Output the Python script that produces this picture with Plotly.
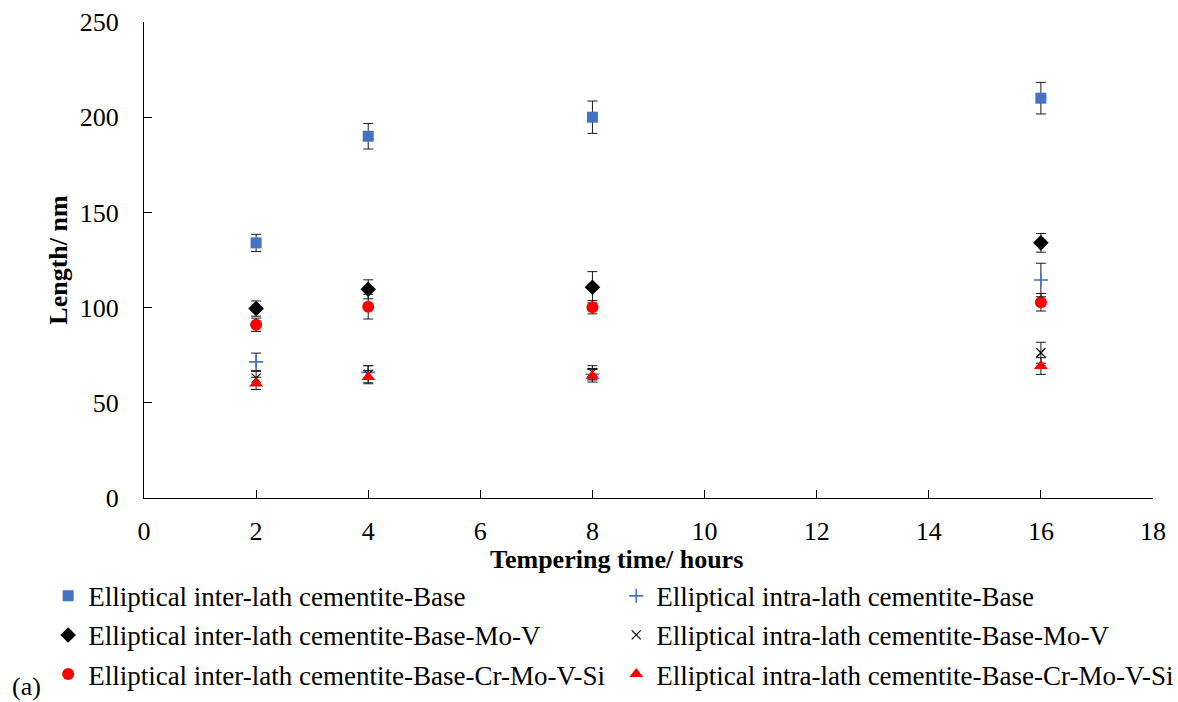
import plotly.graph_objects as go

hours = [2, 4, 8, 16]

inter_base = [134, 190, 200, 210]
inter_base_err = [4.5, 6.7, 8.5, 8.3]
intra_base = [71.5, 66, 65, 114.5]
intra_base_err = [4.6, 3.5, 3.0, 8.8]
inter_mov = [99.5, 109.6, 110.7, 134]
inter_mov_err = [4.0, 5.0, 8.2, 4.9]
intra_mov = [63, 65, 66, 76.3]
intra_mov_err = [3.5, 4.5, 3.5, 5.5]
inter_cr = [91, 100.5, 100.2, 102.8]
inter_cr_err = [3.5, 6.5, 3.5, 4.6]
intra_cr = [60.2, 63.5, 64.2, 69.3]
intra_cr_err = [3.2, 3.5, 3.3, 4.4]

names = [
    "Elliptical inter-lath cementite-Base",
    "Elliptical intra-lath cementite-Base",
    "Elliptical inter-lath cementite-Base-Mo-V",
    "Elliptical intra-lath cementite-Base-Mo-V",
    "Elliptical inter-lath cementite-Base-Cr-Mo-V-Si",
    "Elliptical intra-lath cementite-Base-Cr-Mo-V-Si",
]

FONT = "Liberation Serif, Times New Roman, serif"
BLUE = "#4472C4"
RED = "#FF0000"
FS = 26

fig = go.Figure()

def add(y, err, name, symbol, color, size, legend, group, line_color=None, line_width=0):
    fig.add_trace(go.Scatter(
        x=hours, y=y, mode="markers", name=name,
        legend=legend, legendgroup=group,
        marker=dict(symbol=symbol, color=color, size=size,
                    line=dict(color=line_color or color, width=line_width)),
        error_y=dict(type="data", array=err, visible=True,
                     color="#1a1a1a", thickness=1, width=5),
    ))

add(inter_base, inter_base_err, names[0], "square", BLUE, 11, "legend", "g1")
add(inter_mov, inter_mov_err, names[2], "diamond", "black", 12, "legend", "g2")
add(inter_cr, inter_cr_err, names[4], "circle", RED, 12, "legend", "g3")
add(intra_base, intra_base_err, names[1], "cross-thin-open", BLUE, 10, "legend2", "g4", BLUE, 1.6)
add(intra_mov, intra_mov_err, names[3], "x-thin-open", "black", 9, "legend2", "g5", "#222222", 1.2)
add(intra_cr, intra_cr_err, names[5], "triangle-up", RED, 12, "legend2", "g6")

axis_common = dict(
    showline=True, linecolor="#000000", linewidth=1,
    showgrid=False, zeroline=False,
    ticks="inside", ticklen=8, tickcolor="#000000", tickwidth=1,
    tickfont=dict(family=FONT, size=FS, color="black"),
)

fig.update_xaxes(range=[0, 18], dtick=2, tick0=0, ticklabelstandoff=10, **axis_common)
fig.update_yaxes(range=[0, 250], dtick=50, tick0=0, ticklabelstandoff=19,
                 title=dict(text="<b>Length/ nm</b>", font=dict(family=FONT, size=FS, color="black"), standoff=4),
                 **axis_common)

legend_common = dict(
    orientation="v", yanchor="top", xanchor="left",
    font=dict(family=FONT, size=27, color="black"),
    bgcolor="rgba(0,0,0,0)", tracegroupgap=1, itemwidth=30,
)

fig.update_layout(
    width=1178, height=702,
    margin=dict(l=144, r=25, t=22, b=204, autoexpand=False),
    plot_bgcolor="white", paper_bgcolor="white",
    showlegend=True,
    legend=dict(x=-0.095, y=-0.155, **legend_common),
    legend2=dict(x=0.468, y=-0.155, **legend_common),
    annotations=[
        dict(text="<b>Tempering time/ hours</b>", xref="paper", yref="paper",
             x=(616 - 144) / 1009, y=(498 - 559) / 476, xanchor="center", yanchor="middle",
             showarrow=False, font=dict(family=FONT, size=FS, color="black")),
        dict(text="(a)", xref="paper", yref="paper",
             x=(10 - 144) / 1009, y=(498 - 686) / 476, xanchor="left", yanchor="middle",
             showarrow=False, font=dict(family=FONT, size=FS, color="black")),
    ],
)

fig.write_html("out.html")
